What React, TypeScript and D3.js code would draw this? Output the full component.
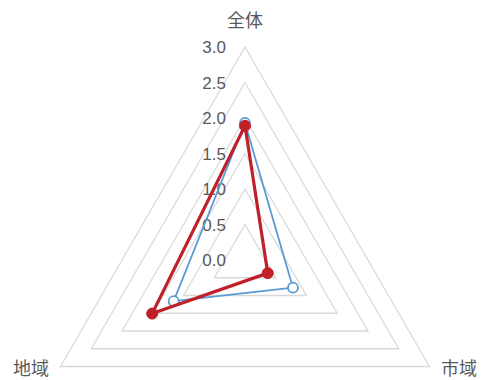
import React from "react";
import * as d3 from "d3";

const categories = ["全体", "市域", "地域"];
const seriesBlue = [1.93, 0.78, 1.16];
const seriesRed = [1.89, 0.37, 1.51];
const tickValues = [0, 0.5, 1.0, 1.5, 2.0, 2.5, 3.0];
const tickLabels = ["0.0", "0.5", "1.0", "1.5", "2.0", "2.5", "3.0"];

export default function App() {
  const W = 483, H = 380;
  const cx = 245, cy = 260, R = 213;
  const r = d3.scaleLinear().domain([0, 3]).range([0, R]);
  const angle = (i: number) => (i * 2 * Math.PI) / categories.length;
  const pt = (i: number, v: number): [number, number] => [
    cx + r(v) * Math.sin(angle(i)),
    cy - r(v) * Math.cos(angle(i)),
  ];
  const line = d3.line<[number, number]>().curve(d3.curveLinearClosed);
  const ringPath = (v: number) => line(categories.map((_, i) => pt(i, v))) || "";
  const seriesPath = (vals: number[]) => line(vals.map((v, i) => pt(i, v))) || "";
  const labelPos: [number, number][] = [
    [245, 21],
    [459, 369],
    [31, 369],
  ];
  return (
    <svg width={W} height={H} style={{ position: "absolute", left: 0, top: 0 }}>
      <rect width={W} height={H} fill="#fff" />
      {tickValues.filter((v) => v > 0).map((v) => (
        <path key={v} d={ringPath(v)} fill="none" stroke="#d9d9d9" strokeWidth={1.3} />
      ))}
      {tickValues.map((v, i) => (
        <text
          key={"t" + v}
          x={226}
          y={cy - r(v)}
          dy="0.36em"
          textAnchor="end"
          fontFamily="'Liberation Sans', Arial, sans-serif"
          fontSize={17}
          fill="#595959"
        >
          {tickLabels[i]}
        </text>
      ))}
      {categories.map((c, i) => (
        <text
          key={c}
          x={labelPos[i][0]}
          y={labelPos[i][1]}
          dy="0.36em"
          textAnchor="middle"
          fontFamily="'Noto Sans CJK JP', sans-serif"
          fontSize={18}
          fill="#595959"
        >
          {c}
        </text>
      ))}
      <path d={seriesPath(seriesBlue)} fill="none" stroke="#5b9bd5" strokeWidth={1.8} strokeLinejoin="round" />
      {seriesBlue.map((v, i) => {
        const [x, y] = pt(i, v);
        return <circle key={"b" + i} cx={x} cy={y} r={5} fill="#fff" stroke="#5b9bd5" strokeWidth={1.8} />;
      })}
      <path d={seriesPath(seriesRed)} fill="none" stroke="#c0202a" strokeWidth={3.2} strokeLinejoin="round" />
      {seriesRed.map((v, i) => {
        const [x, y] = pt(i, v);
        return <circle key={"r" + i} cx={x} cy={y} r={5.5} fill="#c0202a" stroke="#c0202a" strokeWidth={1} />;
      })}
    </svg>
  );
}
